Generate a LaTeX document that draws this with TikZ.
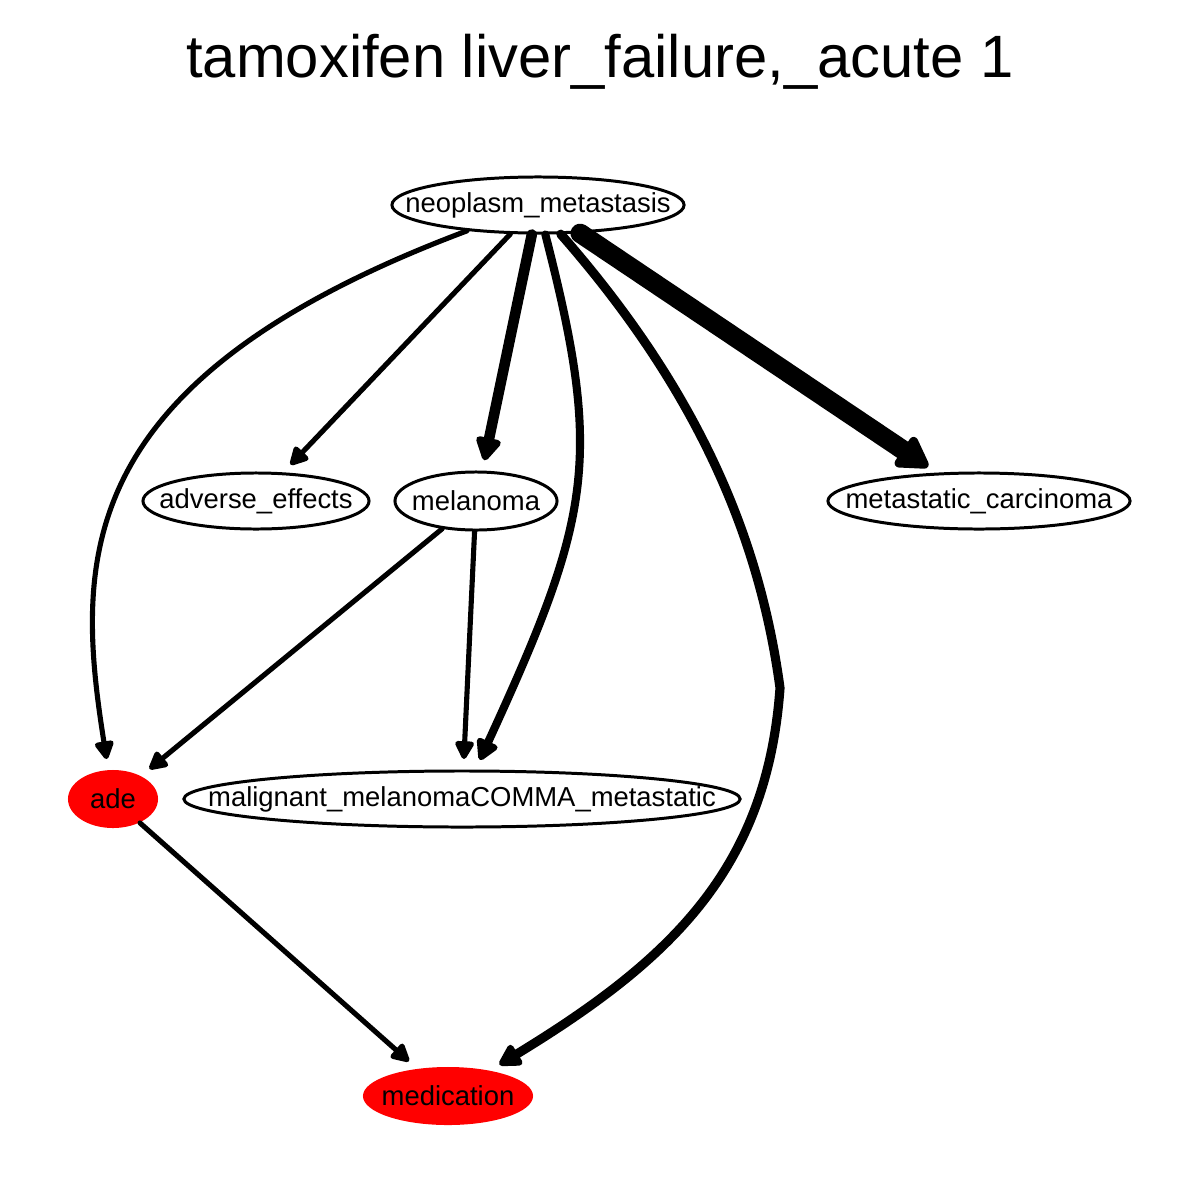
\documentclass[tikz,border=0pt]{standalone}
\usepackage{fontspec}
\setmainfont{Liberation Sans}
\usetikzlibrary{arrows.meta, shapes.geometric}

\newcommand{\lbl}[1]{\makebox[0pt]{#1}}

\begin{document}
\begin{tikzpicture}[
  x=0.01cm, y=-0.01cm,
  font=\fontsize{7.8}{9}\selectfont,
  ent/.style={ellipse, draw=black, line width=0.85pt, inner sep=0pt,
              minimum height=0.56cm},
  hit/.style={ellipse, fill=red, inner sep=0pt, minimum height=0.58cm},
  link/.style={-{Triangle[round, length=4.5pt 1, width=4pt 1.3]},
               line width=1.45pt, line cap=round, line join=round, shorten >=3pt}
]
  \useasboundingbox (0,0) rectangle (1200,1200);
  \fill[white] (0,0) rectangle (1200,1200);

  % titel
  \node[font=\fontsize{17}{20}\selectfont] (title) at (600,62) {tamoxifen liver\_failure,\_acute 1};

  % knoten
  \node[ent, minimum width=2.92cm] (neo)  at (538,205) {\lbl{neoplasm\_metastasis}};
  \node[ent, minimum width=2.26cm] (adv)  at (256,501) {\lbl{adverse\_effects}};
  \node[ent, minimum width=1.62cm, minimum height=0.58cm] (mel) at (476,501) {\lbl{melanoma}};
  \node[ent, minimum width=3.02cm] (carc) at (979,501) {\lbl{metastatic\_carcinoma}};
  \node[hit, minimum width=0.90cm] (ade)  at (113,799) {\lbl{ade}};
  \node[ent, minimum width=5.56cm] (mal)  at (462,799) {\lbl{malignant\_melanomaCOMMA\_metastatic}};
  \node[hit, minimum width=1.70cm] (med)  at (448,1096) {\lbl{medication}};

  % kanten
  \coordinate (bend) at (780,688);
  \draw[link] (neo) -- (adv);
  \draw[link, line width=3pt] (neo) -- (mel);
  \draw[link, line width=5.5pt] (neo) -- (carc);
  \draw[link] (neo.200) .. controls (70,380) and (75,560) .. (ade);
  \draw[link, line width=2.3pt] (neo.284) .. controls (603,459) and (592,516) .. (mal);
  \draw[link, line width=2.6pt] (neo.308) .. controls (700,393) and (760,540) .. (bend)
    .. controls (767,869) and (671,960) .. (med);
  \draw[link] (mel) -- (ade);
  \draw[link] (mel) -- (mal);
  \draw[link] (ade) -- (med);
\end{tikzpicture}
\end{document}
